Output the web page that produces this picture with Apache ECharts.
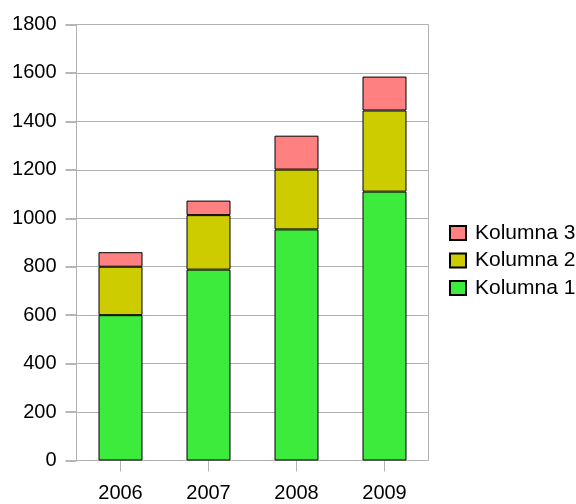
<!DOCTYPE html>
<html>
<head>
<meta charset="utf-8">
<script src="https://cdn.jsdelivr.net/npm/echarts@6/dist/echarts.min.js"></script>
<style>html,body{margin:0;padding:0;background:#fff;}#c{width:576px;height:504px;}</style>
</head>
<body>
<div id="c"></div>
<script>
const categories = ['2006', '2007', '2008', '2009'];
const kolumna1 = [600, 788, 954, 1110];
const kolumna2 = [200, 225, 247, 335];
const kolumna3 = [60, 60, 140, 140];
const yTicks = { min: 0, max: 1800, interval: 200 };

const chart = echarts.init(document.getElementById('c'), null, { renderer: 'canvas' });
const font = 'Liberation Sans, Arial, sans-serif';
const grey = '#b3b3b3';
function ser(name, data, color) {
  return {
    name: name, type: 'bar', stack: 'total', data: data, barWidth: 44,
    itemStyle: { color: color, borderColor: '#000', borderWidth: 1 },
    emphasis: { disabled: true }
  };
}
chart.setOption({
  animation: false,
  textStyle: { fontFamily: font },
  grid: { left: 76.5, right: 147.5, top: 24.5, bottom: 43.5, show: true, borderColor: grey, borderWidth: 1 },
  legend: {
    orient: 'vertical', left: 449, top: 222.5, padding: 0,
    data: ['Kolumna 3', 'Kolumna 2', 'Kolumna 1'],
    itemWidth: 16, itemHeight: 14, itemGap: 6.5,
    textStyle: { fontSize: 21, color: '#000', fontFamily: font, padding: [0, 0, 0, 4] },
    icon: 'rect'
  },
  xAxis: {
    type: 'category', data: categories,
    axisLine: { lineStyle: { color: grey } },
    axisTick: { show: true, alignWithLabel: true, length: 11, lineStyle: { color: grey } },
    axisLabel: { fontSize: 20, color: '#000', margin: 23, fontFamily: font }
  },
  yAxis: {
    type: 'value', min: yTicks.min, max: yTicks.max, interval: yTicks.interval,
    axisLine: { show: true, lineStyle: { color: grey } },
    axisTick: { show: true, inside: false, length: 11, lineStyle: { color: '#a0a0a0', width: 1.5 } },
    splitLine: { lineStyle: { color: grey } },
    axisLabel: { fontSize: 20, color: '#000', margin: 20, fontFamily: font, formatter: v => String(v) }
  },
  series: [
    ser('Kolumna 1', kolumna1, '#3deb3d'),
    ser('Kolumna 2', kolumna2, '#cccc00'),
    ser('Kolumna 3', kolumna3, '#ff8080')
  ]
});
</script>
</body>
</html>
